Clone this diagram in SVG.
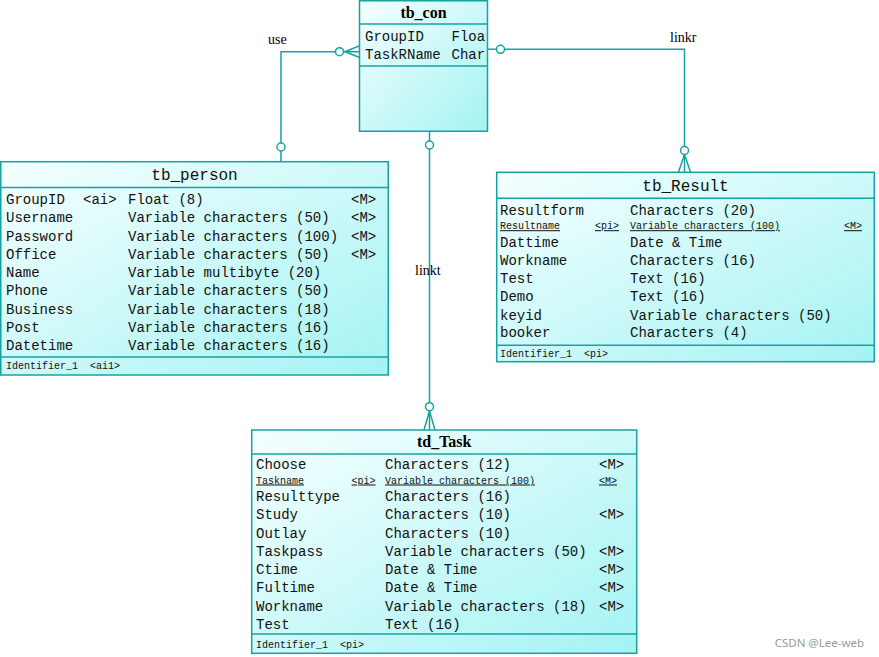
<svg xmlns="http://www.w3.org/2000/svg" width="879" height="657" viewBox="0 0 879 657">
<defs>
<linearGradient id="g" x1="0" y1="0" x2="1" y2="1">
<stop offset="0" stop-color="#f6ffff"/>
<stop offset="1" stop-color="#a4f3f3"/>
</linearGradient>
<style>
.box{fill:url(#g);stroke:#17a2a2;stroke-width:1.5}
.div{stroke:#17a2a2;stroke-width:1.5}
.t{font-family:"Liberation Mono",monospace;font-size:14px;fill:#111}
.s{font-family:"Liberation Mono",monospace;font-size:10px;fill:#111;white-space:pre}
.u{text-decoration:underline}
.ti{font-family:"Liberation Mono",monospace;font-size:16px;fill:#111;text-anchor:middle}
.tb{font-family:"Liberation Serif",serif;font-size:16px;font-weight:bold;fill:#000;text-anchor:middle}
.lbl{font-family:"Liberation Serif",serif;font-size:14px;fill:#000}
.c{fill:none;stroke:#17a2a2;stroke-width:1.5}
.o{fill:#fff;stroke:#17a2a2;stroke-width:1.5}
</style>
<clipPath id="cc"><rect x="359" y="0" width="127" height="131"/></clipPath>
</defs>
<rect width="879" height="657" fill="#fff"/>

<g id="connectors">
<!-- use -->
<polyline class="c" points="281,161.7 281,51.7 359,51.7"/>
<path class="c" d="M345,51.7 L359,46 M345,51.7 L359,57.3"/>
<circle class="o" cx="281" cy="147" r="4"/>
<circle class="o" cx="339.5" cy="51.7" r="4"/>
<text class="lbl" x="268" y="44">use</text>
<!-- linkr -->
<polyline class="c" points="487.7,49.3 684.5,49.3 684.5,172"/>
<path class="c" d="M684.5,154.5 L678.5,172 M684.5,154.5 L690.5,172"/>
<circle class="o" cx="500.5" cy="49.3" r="4"/>
<circle class="o" cx="684.5" cy="150.5" r="4"/>
<text class="lbl" x="670" y="42">linkr</text>
<!-- linkt -->
<line class="c" x1="429.5" y1="131" x2="429.5" y2="430"/>
<path class="c" d="M429.5,411 L424,430 M429.5,411 L435,430"/>
<circle class="o" cx="429.5" cy="145" r="4"/>
<circle class="o" cx="429.5" cy="406.7" r="4"/>
<text class="lbl" x="415" y="275">linkt</text>
</g>

<g id="tb_con">
<rect class="box" x="359.5" y="0.75" width="128" height="130.5"/>
<line class="div" x1="359.5" y1="24" x2="487.5" y2="24"/>
<line class="div" x1="359.5" y1="66" x2="487.5" y2="66"/>
<text class="tb" x="423.5" y="18">tb_con</text>
<g clip-path="url(#cc)">
<text class="t" x="365" y="41">GroupID</text><text class="t" x="451.5" y="41">Floa</text>
<text class="t" x="365" y="59">TaskRName</text><text class="t" x="451.5" y="59">Char</text>
</g>
</g>

<g id="tb_person">
<rect class="box" x="0.75" y="161.7" width="387.5" height="213.3"/>
<line class="div" x1="0.75" y1="187.5" x2="388.25" y2="187.5"/>
<line class="div" x1="0.75" y1="357" x2="388.25" y2="357"/>
<text class="ti" x="194.5" y="180">tb_person</text>
<text class="t" x="6" y="204">GroupID</text><text class="t" x="83" y="204">&lt;ai&gt;</text><text class="t" x="128" y="204">Float (8)</text><text class="t" x="351" y="204">&lt;M&gt;</text>
<text class="t" x="6" y="222.3">Username</text><text class="t" x="128" y="222.3">Variable characters (50)</text><text class="t" x="351" y="222.3">&lt;M&gt;</text>
<text class="t" x="6" y="240.6">Password</text><text class="t" x="128" y="240.6">Variable characters (100)</text><text class="t" x="351" y="240.6">&lt;M&gt;</text>
<text class="t" x="6" y="258.8">Office</text><text class="t" x="128" y="258.8">Variable characters (50)</text><text class="t" x="351" y="258.8">&lt;M&gt;</text>
<text class="t" x="6" y="277">Name</text><text class="t" x="128" y="277">Variable multibyte (20)</text>
<text class="t" x="6" y="295.2">Phone</text><text class="t" x="128" y="295.2">Variable characters (50)</text>
<text class="t" x="6" y="313.5">Business</text><text class="t" x="128" y="313.5">Variable characters (18)</text>
<text class="t" x="6" y="331.7">Post</text><text class="t" x="128" y="331.7">Variable characters (16)</text>
<text class="t" x="6" y="350">Datetime</text><text class="t" x="128" y="350">Variable characters (16)</text>
<text class="s" x="6" y="369" xml:space="preserve">Identifier_1  &lt;ai1&gt;</text>
</g>

<g id="tb_Result">
<rect class="box" x="496.7" y="172.3" width="377.6" height="189.4"/>
<line class="div" x1="496.7" y1="198.3" x2="874.3" y2="198.3"/>
<line class="div" x1="496.7" y1="345.3" x2="874.3" y2="345.3"/>
<text class="ti" x="685.5" y="191">tb_Result</text>
<text class="t" x="500" y="215">Resultform</text><text class="t" x="630" y="215">Characters (20)</text>
<text class="s u" x="500" y="229.2">Resultname</text><text class="s u" x="595" y="229.2">&lt;pi&gt;</text><text class="s u" x="630" y="229.2">Variable characters (100)</text><text class="s u" x="844" y="229.2">&lt;M&gt;</text>
<text class="t" x="500" y="247.3">Dattime</text><text class="t" x="630" y="247.3">Date &amp; Time</text>
<text class="t" x="500" y="265">Workname</text><text class="t" x="630" y="265">Characters (16)</text>
<text class="t" x="500" y="282.7">Test</text><text class="t" x="630" y="282.7">Text (16)</text>
<text class="t" x="500" y="300.7">Demo</text><text class="t" x="630" y="300.7">Text (16)</text>
<text class="t" x="500" y="320">keyid</text><text class="t" x="630" y="320">Variable characters (50)</text>
<text class="t" x="500" y="337.3">booker</text><text class="t" x="630" y="337.3">Characters (4)</text>
<text class="s" x="500" y="357" xml:space="preserve">Identifier_1  &lt;pi&gt;</text>
</g>

<g id="td_Task">
<rect class="box" x="251.7" y="430" width="385" height="223.3"/>
<line class="div" x1="251.7" y1="454" x2="636.7" y2="454"/>
<line class="div" x1="251.7" y1="634" x2="636.7" y2="634"/>
<text class="tb" x="444.2" y="447">td_Task</text>
<text class="t" x="256" y="469.3">Choose</text><text class="t" x="385" y="469.3">Characters (12)</text><text class="t" x="599" y="469.3">&lt;M&gt;</text>
<text class="s u" x="256" y="483.5">Taskname</text><text class="s u" x="351.5" y="483.5">&lt;pi&gt;</text><text class="s u" x="385" y="483.5">Variable characters (100)</text><text class="s u" x="599" y="483.5">&lt;M&gt;</text>
<text class="t" x="256" y="501">Resulttype</text><text class="t" x="385" y="501">Characters (16)</text>
<text class="t" x="256" y="519">Study</text><text class="t" x="385" y="519">Characters (10)</text><text class="t" x="599" y="519">&lt;M&gt;</text>
<text class="t" x="256" y="537.7">Outlay</text><text class="t" x="385" y="537.7">Characters (10)</text>
<text class="t" x="256" y="556">Taskpass</text><text class="t" x="385" y="556">Variable characters (50)</text><text class="t" x="599" y="556">&lt;M&gt;</text>
<text class="t" x="256" y="574">Ctime</text><text class="t" x="385" y="574">Date &amp; Time</text><text class="t" x="599" y="574">&lt;M&gt;</text>
<text class="t" x="256" y="592.3">Fultime</text><text class="t" x="385" y="592.3">Date &amp; Time</text><text class="t" x="599" y="592.3">&lt;M&gt;</text>
<text class="t" x="256" y="611">Workname</text><text class="t" x="385" y="611">Variable characters (18)</text><text class="t" x="599" y="611">&lt;M&gt;</text>
<text class="t" x="256" y="629">Test</text><text class="t" x="385" y="629">Text (16)</text>
<text class="s" x="256" y="647.5" xml:space="preserve">Identifier_1  &lt;pi&gt;</text>
</g>

<text x="864" y="647" font-family="'Noto Sans','Liberation Sans',sans-serif" font-size="11.5" fill="#9a9a9a" text-anchor="end">CSDN @Lee-web</text>
</svg>
